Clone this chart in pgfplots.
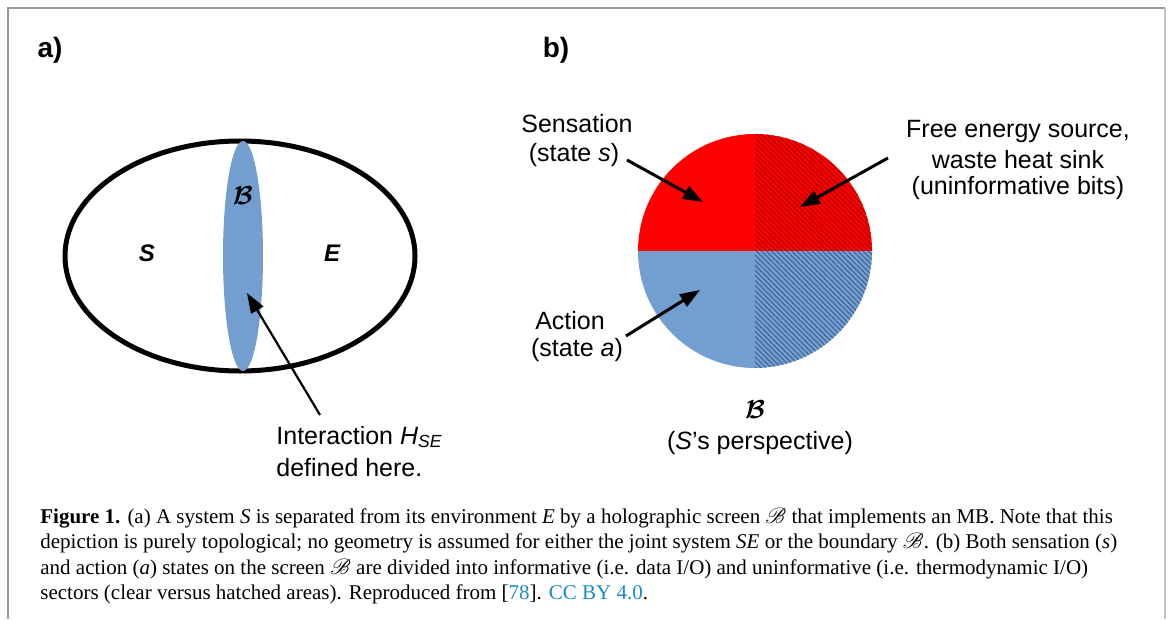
\documentclass[border=0pt]{standalone}
\usepackage{amsmath}
\usepackage{fontspec}
\setmainfont{Liberation Serif}
\newfontfamily\sans{Liberation Sans}
\usepackage{mathrsfs}
\usepackage{pgfplots}
\pgfplotsset{compat=1.18}
\usetikzlibrary{patterns.meta,arrows.meta}
\definecolor{lblue}{HTML}{729FCF}
\definecolor{hblue}{HTML}{3A5A8A}
\definecolor{hredl}{HTML}{A00000}
\definecolor{linkblue}{HTML}{1A8AC6}
\definecolor{frameA}{HTML}{999999}
\definecolor{frameB}{HTML}{C4C4C4}
\begin{document}
\begin{tikzpicture}
\begin{axis}[width=584.5pt,height=309.5pt,scale only axis,
  xmin=0,xmax=1169,ymin=0,ymax=619,y dir=reverse,hide axis,clip=false]
% bounding box
\path (axis cs:0,0) rectangle (axis cs:1169,619);
% frame
\draw[frameA,line width=1pt] (axis cs:8,619) -- (axis cs:8,8) -- (axis cs:1165,8);
\draw[frameB,line width=1pt] (axis cs:1165,8) -- (axis cs:1165,619);
% panel labels
\node[font=\sans\bfseries\fontsize{14}{16}\selectfont] at (axis cs:50,50) {a)};
\node[font=\sans\bfseries\fontsize{14}{16}\selectfont] at (axis cs:556,50) {b)};
% panel a
\draw[black,line width=2.5pt] (axis cs:240,256) ellipse [x radius=87.5pt,y radius=57.5pt];
\fill[lblue] (axis cs:243,256) ellipse [x radius=10pt,y radius=57.5pt];
\node at (axis cs:243,196) {\scalebox{1.3}{$\boldsymbol{\mathcal{B}}$}};
\node[font=\sans\bfseries\itshape\fontsize{12}{14}\selectfont] at (axis cs:147,253) {S};
\node[font=\sans\bfseries\itshape\fontsize{12}{14}\selectfont] at (axis cs:332,253) {E};
\draw[line width=1.1pt,-{Triangle[length=10pt,width=7pt]}] (axis cs:320,415) -- (axis cs:247,293);
\node[inner sep=0pt,font=\sans\fontsize{12.5}{15}\selectfont,anchor=west] at (axis cs:276,437) {Interaction {\itshape H}\textsubscript{\itshape SE}};
\node[inner sep=0pt,font=\sans\fontsize{12.5}{15}\selectfont,anchor=west] at (axis cs:276,468) {defined here.};
% panel b pie
\fill[red] (axis cs:755,251) -- ++(-58.5pt,0pt) arc[start angle=180,end angle=90,radius=58.5pt] -- cycle;
\fill[red] (axis cs:755,251) -- ++(0pt,58.5pt) arc[start angle=90,end angle=0,radius=58.5pt] -- cycle;
\fill[pattern={Lines[angle=-45,distance=1.8pt,line width=0.45pt]},pattern color=hredl] (axis cs:755,251) -- ++(0pt,58.5pt) arc[start angle=90,end angle=0,radius=58.5pt] -- cycle;
\fill[lblue] (axis cs:755,251) -- ++(-58.5pt,0pt) arc[start angle=180,end angle=270,radius=58.5pt] -- cycle;
\fill[lblue] (axis cs:755,251) -- ++(0pt,-58.5pt) arc[start angle=270,end angle=360,radius=58.5pt] -- cycle;
\fill[pattern={Lines[angle=-45,distance=1.8pt,line width=0.45pt]},pattern color=hblue] (axis cs:755,251) -- ++(0pt,-58.5pt) arc[start angle=270,end angle=360,radius=58.5pt] -- cycle;
% arrows b
\draw[line width=1.5pt,-{Triangle[length=10pt,width=7pt]}] (axis cs:627,160) -- (axis cs:703,202);
\draw[line width=1.5pt,-{Triangle[length=10pt,width=7pt]}] (axis cs:888,158) -- (axis cs:800,207);
\draw[line width=1.5pt,-{Triangle[length=10pt,width=7pt]}] (axis cs:626,336) -- (axis cs:700,290);
% labels b
\node[font=\sans\fontsize{12.5}{15}\selectfont] at (axis cs:577,124) {Sensation};
\node[font=\sans\fontsize{12.5}{15}\selectfont] at (axis cs:574,155) {(state \textit{s})};
\node[font=\sans\fontsize{12.5}{15}\selectfont] at (axis cs:1018,131) {Free energy source,};
\node[font=\sans\fontsize{12.5}{15}\selectfont] at (axis cs:1018,160) {waste heat sink};
\node[font=\sans\fontsize{12.5}{15}\selectfont] at (axis cs:1018,188) {(uninformative bits)};
\node[font=\sans\fontsize{12.5}{15}\selectfont] at (axis cs:570,321) {Action};
\node[font=\sans\fontsize{12.5}{15}\selectfont] at (axis cs:577,350) {(state \textit{a})};
\node at (axis cs:755,410) {\scalebox{1.3}{$\boldsymbol{\mathcal{B}}$}};
\node[font=\sans\fontsize{12.5}{15}\selectfont] at (axis cs:760,443) {(\textit{S}’s perspective)};
% caption
\node[inner sep=0pt,anchor=base west,font=\fontsize{10.5}{12}\selectfont] at (axis cs:40,523) {\textbf{Figure 1.} (a) A system \textit{S} is separated from its environment \textit{E} by a holographic screen $\mathscr{B}$ that implements an MB. Note that this};
\node[inner sep=0pt,anchor=base west,font=\fontsize{10.5}{12}\selectfont] at (axis cs:40,548.5) {depiction is purely topological; no geometry is assumed for either the joint system \textit{SE} or the boundary $\mathscr{B}$. (b) Both sensation (\textit{s})};
\node[inner sep=0pt,anchor=base west,font=\fontsize{10.5}{12}\selectfont] at (axis cs:40,574) {and action (\textit{a}) states on the screen $\mathscr{B}$ are divided into informative (i.e. data I/O) and uninformative (i.e. thermodynamic I/O)};
\node[inner sep=0pt,anchor=base west,font=\fontsize{10.5}{12}\selectfont] at (axis cs:40,599.5) {sectors (clear versus hatched areas). Reproduced from [\textcolor{linkblue}{78}]. \textcolor{linkblue}{CC BY 4.0}.};
\end{axis}
\end{tikzpicture}
\end{document}
